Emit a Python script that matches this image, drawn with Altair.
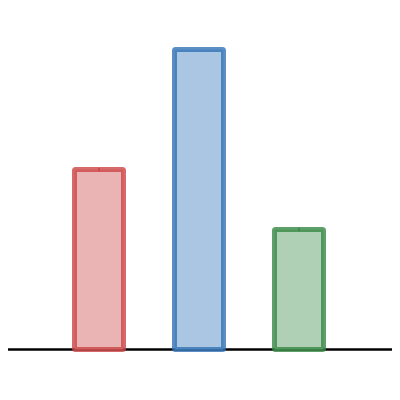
import altair as alt
import pandas as pd

categories = [1, 2, 3]
values = [30, 50, 20]
errors = [0.3, 0.0, 0.3]
fills = ["#e9b4b3", "#abc6e2", "#b0d0b6"]
strokes = ["#cc4546", "#3272b5", "#378845"]

df = pd.DataFrame({
    "cat": categories,
    "value": values,
    "lo": [v - e for v, e in zip(values, errors)],
    "hi": [v + e for v, e in zip(values, errors)],
    "fill": fills,
    "stroke": strokes,
})

xscale = alt.Scale(domain=[0.09, 3.93], nice=False, zero=False, padding=0)
yscale = alt.Scale(domain=[-6.417, 56.917], nice=False, zero=False, padding=0)

base = alt.Chart(df)

baseline = alt.Chart(pd.DataFrame({"y": [0]})).mark_rule(
    color="black", strokeWidth=2.5
).encode(
    y=alt.Y("y:Q", scale=yscale, axis=None),
    x=alt.value(0),
    x2=alt.value(384),
)

bars = base.mark_bar(size=49, strokeWidth=5, strokeOpacity=0.8, cornerRadius=1).encode(
    x=alt.X("cat:Q", scale=xscale, axis=None),
    y=alt.Y("value:Q", scale=yscale, axis=None),
    y2=alt.datum(0),
    fill=alt.Fill("fill:N", scale=None),
    stroke=alt.Stroke("stroke:N", scale=None),
)

err = base.mark_rule(strokeWidth=2, strokeOpacity=0.8).encode(
    x=alt.X("cat:Q", scale=xscale, axis=None),
    y=alt.Y("lo:Q", scale=yscale, axis=None),
    y2="hi:Q",
    stroke=alt.Stroke("stroke:N", scale=None),
)

chart = alt.layer(baseline, bars, err).properties(
    width=384, height=380, padding=0,
    autosize=alt.AutoSizeParams(type="none"),
).configure_view(stroke=None)

chart.save("out.html", embed_options={"renderer": "svg", "actions": False})
